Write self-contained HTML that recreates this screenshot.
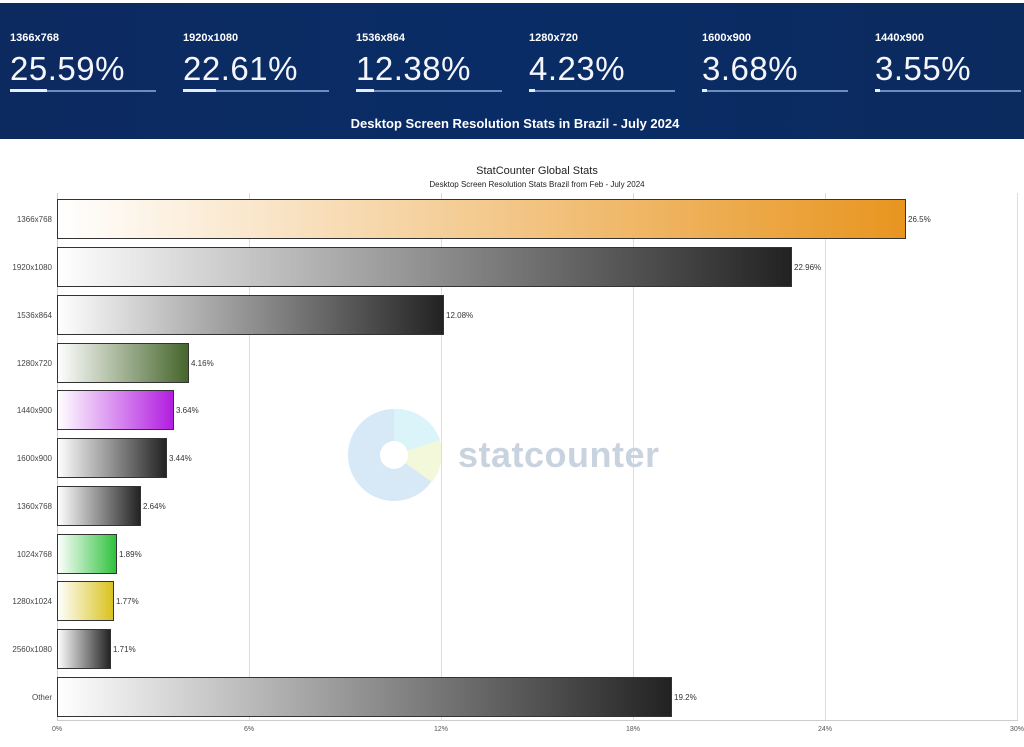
<!DOCTYPE html>
<html><head><meta charset="utf-8"><style>
body{margin:0;width:1024px;height:747px;background:#fff;font-family:"Liberation Sans",sans-serif;overflow:hidden;position:relative}
.hdr{position:absolute;left:0;top:3px;width:1024px;height:136px;background:linear-gradient(90deg,#0c2a60,#0a2c66 50%,#0b2a5e)}
.st{position:absolute;top:0;color:#fff}
.st .l{position:absolute;top:29px;font-size:11px;font-weight:bold;white-space:nowrap}
.st .v{position:absolute;top:47px;font-size:33px;white-space:nowrap;letter-spacing:0.5px;color:#f4f6fb}
.st .u{position:absolute;top:87px;width:146px;height:2px;background:#6f8cbf}
.st .p{position:absolute;top:86px;height:3px;background:#e8eef8}
.ttl{position:absolute;top:113px;left:0;width:1024px;padding-left:3px;text-align:center;color:#fff;font-weight:bold;font-size:13px}
</style></head><body>
<div class="hdr">
<div class="st" style="left:10px"><div class="l">1366x768</div><div class="v">25.59%</div><div class="u"></div><div class="p" style="width:37px"></div></div>
<div class="st" style="left:183px"><div class="l">1920x1080</div><div class="v">22.61%</div><div class="u"></div><div class="p" style="width:33px"></div></div>
<div class="st" style="left:356px"><div class="l">1536x864</div><div class="v">12.38%</div><div class="u"></div><div class="p" style="width:18px"></div></div>
<div class="st" style="left:529px"><div class="l">1280x720</div><div class="v">4.23%</div><div class="u"></div><div class="p" style="width:6px"></div></div>
<div class="st" style="left:702px"><div class="l">1600x900</div><div class="v">3.68%</div><div class="u"></div><div class="p" style="width:5px"></div></div>
<div class="st" style="left:875px"><div class="l">1440x900</div><div class="v">3.55%</div><div class="u"></div><div class="p" style="width:5px"></div></div>
<div class="ttl">Desktop Screen Resolution Stats in Brazil - July 2024</div>
</div>
<svg width="1024" height="747" style="position:absolute;left:0;top:0" font-family="Liberation Sans,sans-serif">
<defs>
<linearGradient id="g0"><stop offset="0" stop-color="#fff"/><stop offset="1" stop-color="#e8951f"/></linearGradient>
<linearGradient id="g1"><stop offset="0" stop-color="#fff"/><stop offset="1" stop-color="#222"/></linearGradient>
<linearGradient id="g2"><stop offset="0" stop-color="#fff"/><stop offset="1" stop-color="#45652a"/></linearGradient>
<linearGradient id="g3"><stop offset="0" stop-color="#fff"/><stop offset="1" stop-color="#b21de0"/></linearGradient>
<linearGradient id="g4"><stop offset="0" stop-color="#fff"/><stop offset="1" stop-color="#2ec13c"/></linearGradient>
<linearGradient id="g5"><stop offset="0" stop-color="#fff"/><stop offset="1" stop-color="#d9c21c"/></linearGradient>
</defs>
<text x="537" y="174" font-size="11" text-anchor="middle" fill="#222">StatCounter Global Stats</text>
<text x="537" y="187" font-size="8" text-anchor="middle" fill="#222">Desktop Screen Resolution Stats Brazil from Feb - July 2024</text>
<g stroke="#ddd" stroke-width="1">
<line x1="249.5" y1="193" x2="249.5" y2="720"/><line x1="441.5" y1="193" x2="441.5" y2="720"/><line x1="633.5" y1="193" x2="633.5" y2="720"/><line x1="825.5" y1="193" x2="825.5" y2="720"/><line x1="1017.5" y1="193" x2="1017.5" y2="720"/>
</g>
<line x1="57" y1="720.5" x2="1018" y2="720.5" stroke="#ccc"/>
<line x1="57.5" y1="193" x2="57.5" y2="721" stroke="#ccc"/>
<g opacity="0.4">
<circle cx="394" cy="455" r="46" fill="#9cc6ea"/>
<path d="M394 409 A46 46 0 0 1 440 440 L394 455Z" fill="#a8e6f5"/>
<path d="M440 440 A46 46 0 0 1 432 482 L394 455Z" fill="#e6f0a6"/>
<circle cx="394" cy="455" r="14" fill="#fff"/>
</g>
<text x="458" y="467" font-size="36" font-weight="bold" fill="#c8d3df" letter-spacing="0.5">statcounter</text>
<g stroke="#333" stroke-width="1">
<rect x="57.5" y="199.5" width="848" height="39" fill="url(#g0)"/>
<rect x="57.5" y="247.5" width="734" height="39" fill="url(#g1)"/>
<rect x="57.5" y="295.5" width="386" height="39" fill="url(#g1)"/>
<rect x="57.5" y="343.5" width="131" height="39" fill="url(#g2)"/>
<rect x="57.5" y="390.5" width="116" height="39" fill="url(#g3)"/>
<rect x="57.5" y="438.5" width="109" height="39" fill="url(#g1)"/>
<rect x="57.5" y="486.5" width="83" height="39" fill="url(#g1)"/>
<rect x="57.5" y="534.5" width="59" height="39" fill="url(#g4)"/>
<rect x="57.5" y="581.5" width="56" height="39" fill="url(#g5)"/>
<rect x="57.5" y="629.5" width="53" height="39" fill="url(#g1)"/>
<rect x="57.5" y="677.5" width="614" height="39" fill="url(#g1)"/>
</g>
<g font-size="8" fill="#333">
<text x="908" y="222">26.5%</text><text x="794" y="270">22.96%</text><text x="446" y="318">12.08%</text>
<text x="191" y="366">4.16%</text><text x="176" y="413">3.64%</text><text x="169" y="461">3.44%</text>
<text x="143" y="509">2.64%</text><text x="119" y="557">1.89%</text><text x="116" y="604">1.77%</text>
<text x="113" y="652">1.71%</text><text x="674" y="700">19.2%</text>
</g>
<g font-size="8" fill="#444" text-anchor="end">
<text x="52" y="222">1366x768</text><text x="52" y="270">1920x1080</text><text x="52" y="318">1536x864</text>
<text x="52" y="366">1280x720</text><text x="52" y="413">1440x900</text><text x="52" y="461">1600x900</text>
<text x="52" y="509">1360x768</text><text x="52" y="557">1024x768</text><text x="52" y="604">1280x1024</text>
<text x="52" y="652">2560x1080</text><text x="52" y="700">Other</text>
</g>
<g font-size="7" fill="#555" text-anchor="middle">
<text x="57" y="731">0%</text><text x="249" y="731">6%</text><text x="441" y="731">12%</text><text x="633" y="731">18%</text><text x="825" y="731">24%</text><text x="1017" y="731">30%</text>
</g>
</svg>
</body></html>
